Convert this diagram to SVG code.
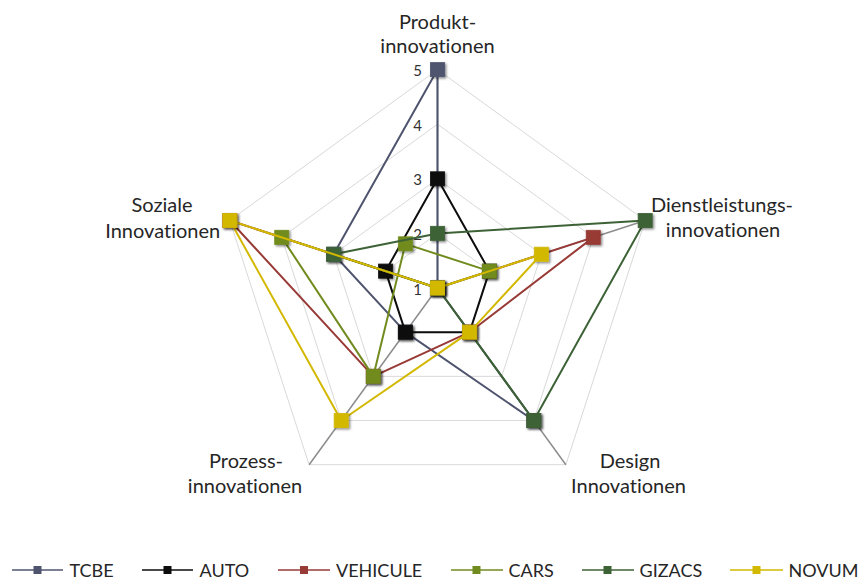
<svg xmlns="http://www.w3.org/2000/svg" width="863" height="580" viewBox="0 0 863 580">
<defs>
<filter id="sh" x="-50%" y="-50%" width="200%" height="200%">
<feDropShadow dx="1.5" dy="1.5" stdDeviation="1.2" flood-color="#000" flood-opacity="0.45"/>
</filter>
<style>
text{font-variant-ligatures:none;font-feature-settings:"liga" 0,"clig" 0}
.grid{fill:none;stroke:#d9d9d9;stroke-width:1}
.axis{stroke:#8c8c8c;stroke-width:1.5;fill:none}
.ser{fill:none;stroke-width:2;stroke-linejoin:round}
.mk{stroke:#ffffff;stroke-opacity:0.85;stroke-width:1;filter:url(#sh)}
.lbl{font-family:Lato,"Open Sans","Liberation Sans",sans-serif;font-size:20px;fill:#262626;text-anchor:middle}
.tick{font-family:Lato,"Open Sans","Liberation Sans",sans-serif;font-size:15px;fill:#333333;text-anchor:end}
.leg{font-family:Lato,"Open Sans","Liberation Sans",sans-serif;font-size:18px;fill:#262626}
.tcbe{stroke:#4f546e;fill:#4f546e}
.auto{stroke:#0d0d0d;fill:#0d0d0d}
.veh{stroke:#983a36;fill:#983a36}
.cars{stroke:#718b1f;fill:#718b1f}
.giz{stroke:#3d6236;fill:#3d6236}
.nov{stroke:#d3b800;fill:#d3b800}
</style>
</defs>
<rect x="0" y="0" width="863" height="580" fill="#ffffff"/>

<g id="grid">
<polygon class="grid" points="437.5,233.4 489.43,271.13 469.59,332.17 405.41,332.17 385.57,271.13"/>
<polygon class="grid" points="437.5,178.8 541.36,254.26 501.69,376.35 373.31,376.35 333.64,254.26"/>
<polygon class="grid" points="437.5,124.2 593.28,237.38 533.78,420.52 341.22,420.52 281.72,237.38"/>
<polygon class="grid" points="437.5,69.6 645.21,220.51 565.87,464.69 309.13,464.69 229.79,220.51"/>
<line class="axis" x1="437.5" y1="288" x2="437.5" y2="69.6"/>
<line class="axis" x1="437.5" y1="288" x2="645.21" y2="220.51"/>
<line class="axis" x1="437.5" y1="288" x2="565.87" y2="464.69"/>
<line class="axis" x1="437.5" y1="288" x2="309.13" y2="464.69"/>
<line class="axis" x1="437.5" y1="288" x2="229.79" y2="220.51"/>
</g>

<g id="ticks">
<text class="tick" x="422" y="76">5</text>
<text class="tick" x="422" y="130.7">4</text>
<text class="tick" x="422" y="185.3">3</text>
<text class="tick" x="422" y="239.9">2</text>
<text class="tick" x="422" y="294.5">1</text>
</g>

<g id="axis-labels">
<g id="label-produkt"><text class="lbl" x="437.5" y="28.5">Produkt-</text><text class="lbl" x="437.5" y="52.5">innovationen</text></g>
<g id="label-dienst"><text class="lbl" x="722" y="211.5">Dienstleistungs-</text><text class="lbl" x="723" y="237">innovationen</text></g>
<g id="label-design"><text class="lbl" x="630" y="467.5">Design</text><text class="lbl" x="628.5" y="493">Innovationen</text></g>
<g id="label-prozess"><text class="lbl" x="246" y="467.5">Prozess-</text><text class="lbl" x="245" y="493">innovationen</text></g>
<g id="label-sozial"><text class="lbl" x="162" y="212">Soziale</text><text class="lbl" x="162.7" y="237.5">Innovationen</text></g>
</g>

<g id="connectors">
<g id="series-TCBE">
<polygon class="ser tcbe" style="fill:none" points="437.5,69.6 437.5,288 533.78,420.52 405.41,332.17 333.64,254.26"/>
<g class="mk tcbe">
<rect x="430.5" y="62.6" width="14" height="14"/><rect x="430.5" y="281" width="14" height="14"/><rect x="526.78" y="413.52" width="14" height="14"/><rect x="398.41" y="325.17" width="14" height="14"/><rect x="326.64" y="247.26" width="14" height="14"/>
</g>
</g>
<g id="series-AUTO">
<polygon class="ser auto" style="fill:none" points="437.5,178.8 489.43,271.13 469.59,332.17 405.41,332.17 385.57,271.13"/>
<g class="mk auto">
<rect x="430.5" y="171.8" width="14" height="14"/><rect x="482.43" y="264.13" width="14" height="14"/><rect x="462.59" y="325.17" width="14" height="14"/><rect x="398.41" y="325.17" width="14" height="14"/><rect x="378.57" y="264.13" width="14" height="14"/>
</g>
</g>
<g id="series-VEHICULE">
<polygon class="ser veh" style="fill:none" points="437.5,288 593.28,237.38 469.59,332.17 373.31,376.35 229.79,220.51"/>
<g class="mk veh">
<rect x="430.5" y="281" width="14" height="14"/><rect x="586.28" y="230.38" width="14" height="14"/><rect x="462.59" y="325.17" width="14" height="14"/><rect x="366.31" y="369.35" width="14" height="14"/><rect x="222.79" y="213.51" width="14" height="14"/>
</g>
</g>
<g id="series-CARS">
<polygon class="ser cars" style="fill:none" points="437.5,288 489.43,271.13 405.41,243.83 373.31,376.35 281.72,237.38"/>
<g class="mk cars">
<rect x="430.5" y="281" width="14" height="14"/><rect x="482.43" y="264.13" width="14" height="14"/><rect x="398.41" y="236.83" width="14" height="14"/><rect x="366.31" y="369.35" width="14" height="14"/><rect x="274.72" y="230.38" width="14" height="14"/>
</g>
</g>
<g id="series-GIZACS">
<polygon class="ser giz" style="fill:none" points="437.5,233.4 645.21,220.51 533.78,420.52 437.5,288 333.64,254.26"/>
<g class="mk giz">
<rect x="430.5" y="226.4" width="14" height="14"/><rect x="638.21" y="213.51" width="14" height="14"/><rect x="526.78" y="413.52" width="14" height="14"/><rect x="430.5" y="281" width="14" height="14"/><rect x="326.64" y="247.26" width="14" height="14"/>
</g>
</g>
<g id="series-NOVUM">
<polygon class="ser nov" style="fill:none" points="437.5,288 541.36,254.26 469.59,332.17 341.22,420.52 229.79,220.51"/>
<g class="mk nov">
<rect x="430.5" y="281" width="14" height="14"/><rect x="534.36" y="247.26" width="14" height="14"/><rect x="462.59" y="325.17" width="14" height="14"/><rect x="334.22" y="413.52" width="14" height="14"/><rect x="222.79" y="213.51" width="14" height="14"/>
</g>
</g>
</g>

<g id="legend">
<g id="leg-TCBE"><line class="tcbe" x1="12" y1="570" x2="63" y2="570" stroke-width="1.5"/><rect class="tcbe" x="34" y="566.5" width="7" height="7"/><text class="leg" x="69.5" y="576.5">TCBE</text></g>
<g id="leg-AUTO"><line class="auto" x1="142" y1="570" x2="193" y2="570" stroke-width="1.5"/><rect class="auto" x="164" y="566.5" width="7" height="7"/><text class="leg" x="199.5" y="576.5">AUTO</text></g>
<g id="leg-VEHICULE"><line class="veh" x1="278" y1="570" x2="330" y2="570" stroke-width="1.5"/><rect class="veh" x="300.5" y="566.5" width="7" height="7"/><text class="leg" x="336" y="576.5">VEHICULE</text></g>
<g id="leg-CARS"><line class="cars" x1="451" y1="570" x2="503" y2="570" stroke-width="1.5"/><rect class="cars" x="473" y="566.5" width="7" height="7"/><text class="leg" x="508.5" y="576.5">CARS</text></g>
<g id="leg-GIZACS"><line class="giz" x1="582" y1="570" x2="634" y2="570" stroke-width="1.5"/><rect class="giz" x="604" y="566.5" width="7" height="7"/><text class="leg" x="639.5" y="576.5">GIZACS</text></g>
<g id="leg-NOVUM"><line class="nov" x1="730" y1="570" x2="783" y2="570" stroke-width="1.5"/><rect class="nov" x="753" y="566.5" width="7" height="7"/><text class="leg" x="788.5" y="576.5">NOVUM</text></g>
</g>
</svg>
